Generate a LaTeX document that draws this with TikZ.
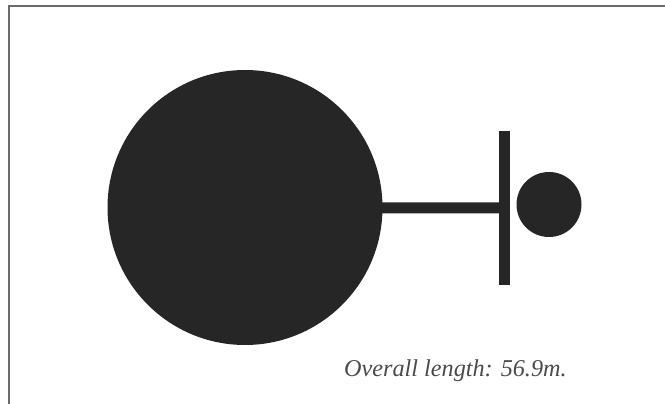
\documentclass[tikz,border=0pt]{standalone}
\usepackage{xcolor}
\usepackage{tikz}
\usepackage{fontspec}
\setmainfont{Liberation Serif}
\usetikzlibrary{positioning}

\definecolor{inkdark}{HTML}{262626}
\definecolor{framegray}{HTML}{6A6A6A}
\definecolor{labelgray}{HTML}{4A4A4A}

\begin{document}
\begin{tikzpicture}[x=1pt,y=-1pt,
  solid/.style={fill=inkdark,draw=none,inner sep=0pt},
  disc/.style={solid,circle},
  bar/.style={draw=inkdark,line width=11pt}]
  \useasboundingbox (0,0) rectangle (665,404);
  % frame, top and left edges only
  \draw[framegray,line width=2pt] (9,404) -- (9,6.5) -- (665,6.5);
  % shapes
  \node[disc,minimum size=275pt] (hull) at (245,207.5) {};
  \node[solid,rectangle,minimum width=11pt,minimum height=154pt] (mast) at (504.5,208) {};
  \node[disc,minimum size=65pt] (buoy) at (549,204.5) {};
  \draw[bar] (hull.center) -- (mast.center);
  % caption
  \node[anchor=base west,inner sep=0pt,text=labelgray,font=\fontsize{24.2}{29}\selectfont\itshape] (caption) at (344,376.5) {Overall length: 56.9m.};
\end{tikzpicture}
\end{document}
